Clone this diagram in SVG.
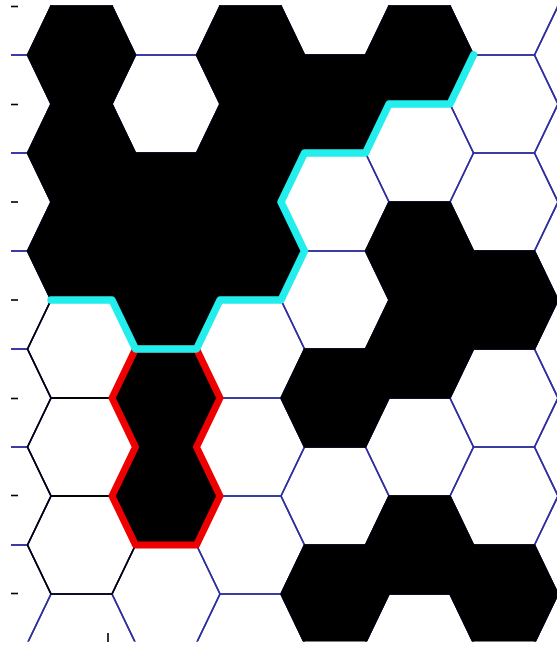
<svg xmlns="http://www.w3.org/2000/svg" xmlns:xlink="http://www.w3.org/1999/xlink" width="557" height="649" viewBox="0 0 557 649">
  <style>
    .grid { fill: none; stroke: #2f2f9f; stroke-width: 1.6; }
    .black { fill: #000; stroke: #000; stroke-width: 1.6; }
    .outline { fill: none; stroke: #000; stroke-width: 1.6; }
    .tick { stroke: #000; stroke-width: 1.6; }
    .cyan { fill: none; stroke: #22eeee; stroke-width: 7.5; stroke-linejoin: round; stroke-linecap: round; }
    .red { fill: none; stroke: #ee0000; stroke-width: 7; stroke-linejoin: round; }
  </style>
  <defs>
    <polygon id="hex" points="-54,0 -30.5,-49 30.5,-49 54,0 30.5,49 -30.5,49"/>
    <clipPath id="plot"><rect x="11" y="5" width="560" height="636.5"/></clipPath>
  </defs>
  <rect width="557" height="649" fill="#fff"/>
  <g clip-path="url(#plot)">
    <g id="grid">
      <use href="#hex" class="grid" x="-3" y="6"/><use href="#hex" class="grid" x="-3" y="104"/><use href="#hex" class="grid" x="-3" y="202"/><use href="#hex" class="grid" x="-3" y="300"/><use href="#hex" class="grid" x="-3" y="398"/><use href="#hex" class="grid" x="-3" y="496"/><use href="#hex" class="grid" x="-3" y="594"/><use href="#hex" class="grid" x="-3" y="692"/>
      <use href="#hex" class="grid" x="81.5" y="55"/><use href="#hex" class="grid" x="81.5" y="153"/><use href="#hex" class="grid" x="81.5" y="251"/><use href="#hex" class="grid" x="81.5" y="349"/><use href="#hex" class="grid" x="81.5" y="447"/><use href="#hex" class="grid" x="81.5" y="545"/><use href="#hex" class="grid" x="81.5" y="643"/>
      <use href="#hex" class="grid" x="166" y="6"/><use href="#hex" class="grid" x="166" y="104"/><use href="#hex" class="grid" x="166" y="202"/><use href="#hex" class="grid" x="166" y="300"/><use href="#hex" class="grid" x="166" y="398"/><use href="#hex" class="grid" x="166" y="496"/><use href="#hex" class="grid" x="166" y="594"/><use href="#hex" class="grid" x="166" y="692"/>
      <use href="#hex" class="grid" x="250.5" y="55"/><use href="#hex" class="grid" x="250.5" y="153"/><use href="#hex" class="grid" x="250.5" y="251"/><use href="#hex" class="grid" x="250.5" y="349"/><use href="#hex" class="grid" x="250.5" y="447"/><use href="#hex" class="grid" x="250.5" y="545"/><use href="#hex" class="grid" x="250.5" y="643"/>
      <use href="#hex" class="grid" x="335" y="6"/><use href="#hex" class="grid" x="335" y="104"/><use href="#hex" class="grid" x="335" y="202"/><use href="#hex" class="grid" x="335" y="300"/><use href="#hex" class="grid" x="335" y="398"/><use href="#hex" class="grid" x="335" y="496"/><use href="#hex" class="grid" x="335" y="594"/><use href="#hex" class="grid" x="335" y="692"/>
      <use href="#hex" class="grid" x="419.5" y="55"/><use href="#hex" class="grid" x="419.5" y="153"/><use href="#hex" class="grid" x="419.5" y="251"/><use href="#hex" class="grid" x="419.5" y="349"/><use href="#hex" class="grid" x="419.5" y="447"/><use href="#hex" class="grid" x="419.5" y="545"/><use href="#hex" class="grid" x="419.5" y="643"/>
      <use href="#hex" class="grid" x="504" y="6"/><use href="#hex" class="grid" x="504" y="104"/><use href="#hex" class="grid" x="504" y="202"/><use href="#hex" class="grid" x="504" y="300"/><use href="#hex" class="grid" x="504" y="398"/><use href="#hex" class="grid" x="504" y="496"/><use href="#hex" class="grid" x="504" y="594"/><use href="#hex" class="grid" x="504" y="692"/>
      <use href="#hex" class="grid" x="588.5" y="55"/><use href="#hex" class="grid" x="588.5" y="153"/><use href="#hex" class="grid" x="588.5" y="251"/><use href="#hex" class="grid" x="588.5" y="349"/><use href="#hex" class="grid" x="588.5" y="447"/><use href="#hex" class="grid" x="588.5" y="545"/><use href="#hex" class="grid" x="588.5" y="643"/>
    </g>
    <g id="black-cells">
      <use href="#hex" class="black" x="81.5" y="55"/><use href="#hex" class="black" x="81.5" y="153"/><use href="#hex" class="black" x="81.5" y="251"/>
      <use href="#hex" class="black" x="166" y="202"/><use href="#hex" class="black" x="166" y="300"/><use href="#hex" class="black" x="166" y="398"/><use href="#hex" class="black" x="166" y="496"/>
      <use href="#hex" class="black" x="250.5" y="55"/><use href="#hex" class="black" x="250.5" y="153"/><use href="#hex" class="black" x="250.5" y="251"/>
      <use href="#hex" class="black" x="335" y="104"/><use href="#hex" class="black" x="335" y="398"/><use href="#hex" class="black" x="335" y="594"/>
      <use href="#hex" class="black" x="419.5" y="55"/><use href="#hex" class="black" x="419.5" y="251"/><use href="#hex" class="black" x="419.5" y="349"/><use href="#hex" class="black" x="419.5" y="545"/>
      <use href="#hex" class="black" x="504" y="300"/><use href="#hex" class="black" x="504" y="594"/>
    </g>
    <g id="outlined-cells">
      <use href="#hex" class="outline" x="81.5" y="349"/><use href="#hex" class="outline" x="81.5" y="447"/><use href="#hex" class="outline" x="81.5" y="545"/>
    </g>
    <g id="paths">
      <polygon id="red-group" class="red" points="135.5,349 112,398 135.5,447 112,496 135.5,545 196.5,545 220,496 196.5,447 220,398 196.5,349"/>
      <polyline id="cyan-boundary" class="cyan" points="473.5,55 450,104 389,104 365.5,153 304.5,153 281,202 304.5,251 281,300 220,300 196.5,349 135.5,349 112,300 51,300"/>
    </g>
  </g>
  <g id="ticks">
    <line class="tick" x1="11" y1="6.5" x2="18" y2="6.5"/>
    <line class="tick" x1="11" y1="104.5" x2="18" y2="104.5"/>
    <line class="tick" x1="11" y1="202" x2="18" y2="202"/>
    <line class="tick" x1="11" y1="300" x2="18" y2="300"/>
    <line class="tick" x1="11" y1="398.5" x2="18" y2="398.5"/>
    <line class="tick" x1="11" y1="495.5" x2="18" y2="495.5"/>
    <line class="tick" x1="11" y1="593.5" x2="18" y2="593.5"/>
    <line class="tick" x1="108" y1="633" x2="108" y2="642"/>
  </g>
</svg>
